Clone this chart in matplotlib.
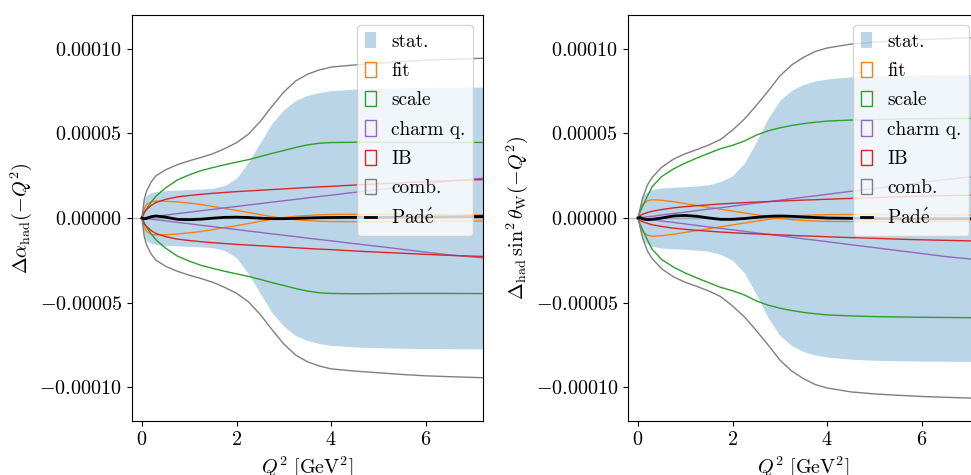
import numpy as np
import matplotlib
matplotlib.use('Agg')
import matplotlib.pyplot as plt
from matplotlib.ticker import FuncFormatter

plt.rcParams.update({
    'font.family': 'serif',
    'font.serif': ['cmr10'],
    'mathtext.fontset': 'cm',
    'font.size': 14.5,
    'axes.unicode_minus': True,
})

# Q^2 grid [GeV^2]
q2 = [0, 0.05, 0.1, 0.2, 0.3, 0.5, 0.75, 1.0, 1.25, 1.5, 1.75, 2.0, 2.25,
      2.5, 2.75, 3.0, 3.25, 3.5, 3.75, 4.0, 4.5, 5.0, 5.5, 6.0, 6.5, 7.3]

# half-widths of the uncertainty bands, in units of 1e-5
# left panel: Delta alpha_had
alpha_stat = [0, 1.1, 1.35, 1.5, 1.57, 1.62, 1.65, 1.68, 1.71, 1.76, 1.92, 2.35, 3.3,
              4.45, 5.6, 6.4, 6.95, 7.25, 7.42, 7.53, 7.62, 7.67, 7.7, 7.72, 7.73, 7.74]
alpha_fit = [0, 0.55, 0.8, 0.97, 1.0, 0.99, 0.95, 0.88, 0.8, 0.68, 0.56, 0.45, 0.33,
             0.2, 0.08, -0.03, -0.1, -0.15, -0.19, -0.21, -0.22, -0.22, -0.21, -0.2, -0.19, -0.18]
alpha_scale = [0, 0.3, 0.55, 0.95, 1.3, 1.78, 2.25, 2.55, 2.8, 2.98, 3.15, 3.3, 3.45,
               3.63, 3.82, 3.99, 4.17, 4.32, 4.42, 4.46, 4.48, 4.47, 4.46, 4.46, 4.46, 4.47]
alpha_charm = [0, 0.02, 0.04, 0.07, 0.1, 0.17, 0.26, 0.34, 0.43, 0.51, 0.6, 0.68, 0.77,
               0.85, 0.94, 1.02, 1.1, 1.19, 1.27, 1.35, 1.52, 1.68, 1.85, 2.02, 2.18, 2.38]
alpha_ib = [0, 0.35, 0.5, 0.75, 0.92, 1.1, 1.25, 1.33, 1.4, 1.46, 1.51, 1.56, 1.6,
            1.64, 1.68, 1.72, 1.76, 1.8, 1.84, 1.87, 1.95, 2.02, 2.08, 2.15, 2.21, 2.28]
alpha_comb = [0, 1.1, 1.6, 2.15, 2.5, 2.85, 3.15, 3.38, 3.58, 3.8, 4.1, 4.45, 4.95,
              5.7, 6.6, 7.45, 8.1, 8.5, 8.75, 8.92, 9.05, 9.15, 9.25, 9.33, 9.38, 9.45]
alpha_pade = [0, -0.05, -0.02, 0.08, 0.12, 0.05, -0.08, -0.1, -0.07, -0.01, 0.04, 0.05, 0.03,
              -0.01, -0.04, -0.04, -0.02, 0.0, 0.02, 0.03, 0.04, 0.04, 0.05, 0.06, 0.07, 0.09]

# right panel: Delta_had sin^2 theta_W
sw_stat = [0, 0.9, 1.3, 1.55, 1.68, 1.78, 1.82, 1.85, 1.9, 1.97, 2.15, 2.5, 3.25,
           4.5, 5.9, 6.95, 7.55, 7.9, 8.1, 8.22, 8.35, 8.41, 8.44, 8.46, 8.47, 8.48]
sw_fit = [0, 0.5, 0.8, 1.02, 1.08, 1.05, 0.96, 0.85, 0.74, 0.63, 0.52, 0.41, 0.3,
          0.19, 0.08, -0.02, -0.1, -0.15, -0.18, -0.2, -0.21, -0.21, -0.2, -0.19, -0.18, -0.17]
sw_scale = [0, 0.4, 0.7, 1.3, 1.85, 2.45, 2.9, 3.25, 3.55, 3.83, 4.1, 4.3, 4.55,
            4.9, 5.15, 5.33, 5.47, 5.58, 5.66, 5.73, 5.79, 5.83, 5.85, 5.87, 5.88, 5.9]
sw_charm = [0, 0.02, 0.04, 0.07, 0.1, 0.18, 0.26, 0.35, 0.44, 0.53, 0.61, 0.7, 0.79,
            0.88, 0.96, 1.05, 1.14, 1.23, 1.31, 1.4, 1.58, 1.75, 1.93, 2.1, 2.28, 2.5]
sw_ib = [0, 0.15, 0.22, 0.32, 0.4, 0.5, 0.6, 0.67, 0.73, 0.78, 0.83, 0.87, 0.91,
         0.94, 0.97, 1.0, 1.03, 1.06, 1.08, 1.11, 1.16, 1.2, 1.25, 1.29, 1.32, 1.37]
sw_comb = [0, 0.6, 1.2, 1.95, 2.4, 3.0, 3.48, 3.8, 4.05, 4.32, 4.65, 5.2, 5.85,
           6.65, 7.5, 8.4, 9.05, 9.5, 9.85, 10.05, 10.28, 10.4, 10.48, 10.55, 10.6, 10.67]
sw_pade = [0, 0.03, -0.05, -0.1, -0.08, 0.0, 0.12, 0.15, 0.1, 0.0, -0.08, -0.08, -0.03,
           0.04, 0.1, 0.12, 0.1, 0.06, 0.03, 0.0, -0.02, -0.03, -0.04, -0.04, -0.04, -0.04]

labels = ['stat.', 'fit', 'scale', 'charm q.', 'IB', 'comb.', r"Pad$\'{\mathrm{e}}$"]
colors = ['tab:orange', 'tab:green', 'tab:purple', 'tab:red', 'tab:gray']


def ytick(v, pos):
    if abs(v) < 1e-12:
        v = 0.0
    return f'${v:.5f}$'


def draw(ax, stat, fit, scale, charm, ib, comb, pade, ylabel):
    q = np.array(q2)
    s = 1e-5
    ax.axhline(0, color='gray', lw=1, alpha=0.5, zorder=0)
    ax.fill_between(q, -np.array(stat) * s, np.array(stat) * s,
                    color='tab:blue', alpha=0.3, lw=0, label=labels[0])
    for arr, c, lab in zip([fit, scale, charm, ib, comb], colors, labels[1:6]):
        a = np.array(arr) * s
        ax.fill_between(q, -a, a, facecolor='none', edgecolor=c, lw=1, label=lab)
    ax.plot(q, np.array(pade) * s, color='k', lw=2, label=labels[6])
    ax.set_xlim(-0.21, 7.21)
    ax.set_ylim(-1.2e-4, 1.2e-4)
    ax.set_xticks([0, 2, 4, 6])
    ax.set_yticks([-1e-4, -5e-5, 0, 5e-5, 1e-4])
    ax.xaxis.set_major_formatter(FuncFormatter(lambda v, p: f'${v:.0f}$'))
    ax.yaxis.set_major_formatter(FuncFormatter(ytick))
    ax.set_xlabel(r'$Q^2\ [\mathrm{GeV}^2]$')
    ax.set_ylabel(ylabel)
    ax.legend(loc='upper right', fontsize=13.9, handlelength=0.58,
              handleheight=0.83, handletextpad=0.8, labelspacing=0.575)


fig = plt.figure(figsize=(9.71, 4.75), dpi=100)
ax1 = fig.add_axes([0.1359, 0.1137, 0.3615, 0.8547])
ax2 = fig.add_axes([0.6468, 0.1137, 0.3615, 0.8547])

draw(ax1, alpha_stat, alpha_fit, alpha_scale, alpha_charm, alpha_ib, alpha_comb,
     alpha_pade, r'$\Delta\alpha_{\mathrm{had}}(-Q^2)$')
draw(ax2, sw_stat, sw_fit, sw_scale, sw_charm, sw_ib, sw_comb,
     sw_pade, r'$\Delta_{\mathrm{had}}\,\sin^2\theta_{\mathrm{W}}(-Q^2)$')

fig.savefig('out.png', dpi=100)
